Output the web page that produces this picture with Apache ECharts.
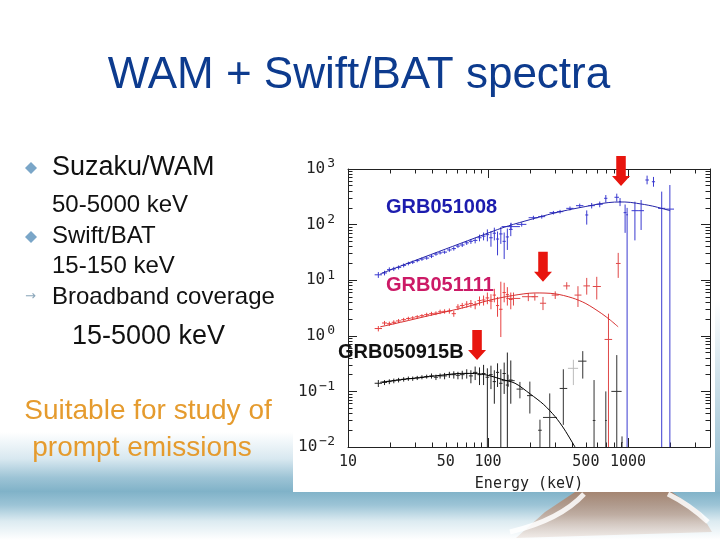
<!DOCTYPE html>
<html><head><meta charset="utf-8">
<script src="https://cdn.jsdelivr.net/npm/echarts@6.0.0/dist/echarts.min.js"></script>
<style>html,body{margin:0;padding:0;background:#fff}#c{width:720px;height:540px}</style>
</head><body><div id="c"></div>
<script>
// ---------- tick values ----------
const xLabelValues = [10, 50, 100, 500, 1000];
const xMajorTicks = [10, 100, 1000];
const xMinorTicks = [20,30,40,50,60,70,80,90,200,300,400,500,600,700,800,900,2000,3000];
const yMajorTicks = [0.01, 0.1, 1, 10, 100, 1000];
const yMinorTicks = [0.02,0.03,0.04,0.05,0.06,0.07,0.08,0.09,0.2,0.3,0.4,0.5,0.6,0.7,0.8,0.9,2,3,4,5,6,7,8,9,20,30,40,50,60,70,80,90,200,300,400,500,600,700,800,900];

// ---------- Swift/BAT channels (bin edges, keV) ----------
const batEdges = [15.5,17.5,19,20.5,22,24,26,28,30,32.5,35,38,41,44,47,51,55,59,63,68,73,78,84,90,96,102,108,114,120,127,134,141,150];

// GRB051008 (blue)
const blueBatF  = [12.5,13.5,15.5,16,17,18.5,20,21,22.5,24,25,27,29.5,31,32,35,37,41,43,47,50,52,58,62,66,58,70,55,68,50,60,82];
const blueBatLo = [11,12.2,14,14.6,15.6,17,18.5,19.5,21,22.3,23.3,25,27.5,29,29.8,32.5,34,38,39.5,43,45,46,50,52,50,40,52,28,45,24,35,62];
const blueBatHi = [14,14.8,17,17.4,18.4,20,21.5,22.5,24,25.7,26.7,29,31.5,33,34.2,37.5,40,44,46.5,51,55,58,66,72,82,76,88,75,90,72,85,105];
// WAM: [E, F, Elo, Ehi, Flo, Fhi]
const blueWam = [
  [146,92,125,169,80,108],[174,101,160,188,92,110],[211,133,195,228,122,144],[242,139,228,256,128,150],
  [293,164,275,310,152,176],[327,171,310,345,158,184],[385,196,362,408,180,212],[452,219,425,480,200,238],
  [507,149,495,520,100,180],[550,219,520,580,195,245],[628,232,595,660,205,260],[694,297,675,712,250,340],
  [831,310,800,862,260,360],[877,258,862,892,215,300],[953,164,930,975,71,230],[985,150,970,1000,0.005,200],
  [1120,178,1060,1180,52,258],[1240,178,1180,1300,80,277],[1368,634,1330,1410,530,760],[1520,590,1480,1560,480,720],
  [1740,196,1640,1850,0.005,392],[1990,190,1870,2130,0.005,515]
];
const blueModelE = [17,30,50,80,110,140,200,293,400,500,650,800,950,1150,1500,2000];
const blueModelF = [13,22.5,36.5,57,77,95,123,160,190,212,240,254,255,242,215,178];

// GRB051111 (red)
const redBatF  = [1.35,1.7,1.65,1.75,1.85,1.95,2.05,2.1,2.2,2.3,2.4,2.5,2.55,2.7,2.75,2.8,2.5,3.3,3.5,3.7,3.8,3.6,4.3,4.4,4.8,4.2,5.4,3.5,3.0,6.0,5.5,4.5];
const redBatLo = [1.2,1.55,1.5,1.6,1.7,1.8,1.9,1.95,2.05,2.15,2.2,2.3,2.35,2.45,2.5,2.5,2.2,2.9,3.1,3.2,3.2,3.0,3.5,3.5,3.7,3.0,4.0,2.2,0.95,4.0,3.5,3.0];
const redBatHi = [1.5,1.85,1.8,1.9,2.0,2.1,2.2,2.25,2.35,2.45,2.6,2.7,2.75,2.95,3.0,3.1,2.8,3.7,3.9,4.2,4.4,4.2,5.1,5.3,6.0,5.6,7.0,5.0,9.4,9.0,7.5,6.0];
const redWam = [
  [152,4.7,135,170,3.5,6.0],[194,5.05,175,215,4.2,5.9],[216,5.05,205,228,4.3,5.8],[247,3.85,235,260,2.9,5.0],
  [302,5.4,285,320,4.6,6.3],[365,7.9,345,385,6.8,9.2],[439,5.4,415,465,3.3,7.8],[507,7.9,480,535,5.5,11],
  [598,7.7,560,640,4.5,11.5],[725,0.86,680,770,0.005,2.5],[851,20,820,885,11,31]
];
const redModelE = [17,25,35,50,70,100,150,217,300,400,500,650,750,850];
const redModelF = [1.45,1.8,2.2,2.7,3.3,4.3,5.3,5.9,5.7,4.8,3.8,2.5,1.9,1.45];

// GRB050915B (black)
const blackBatF  = [0.14,0.145,0.15,0.155,0.16,0.165,0.17,0.17,0.175,0.18,0.185,0.19,0.18,0.19,0.19,0.2,0.2,0.195,0.2,0.21,0.19,0.22,0.2,0.21,0.18,0.2,0.15,0.22,0.14,0.21,0.13,0.16];
const blackBatLo = [0.12,0.13,0.135,0.14,0.145,0.15,0.155,0.155,0.16,0.165,0.17,0.17,0.16,0.17,0.165,0.175,0.17,0.165,0.165,0.17,0.14,0.16,0.13,0.13,0.005,0.11,0.06,0.12,0.005,0.09,0.005,0.06];
const blackBatHi = [0.16,0.16,0.165,0.17,0.175,0.18,0.185,0.185,0.19,0.195,0.2,0.21,0.2,0.21,0.215,0.225,0.23,0.225,0.235,0.25,0.24,0.28,0.27,0.3,0.26,0.29,0.24,0.32,0.25,0.33,0.5,0.36];
const blackWam = [
  [139,0.156,125,155,0.12,0.2],[169,0.11,160,178,0.075,0.148],[199,0.084,190,208,0.04,0.15],[235,0.02,228,242,0.005,0.031],
  [276,0.034,247,310,0.005,0.092],[345,0.113,325,368,0.025,0.25],[475,0.35,440,505,0.17,0.53],[572,0.03,560,585,0.005,0.16],
  [694,0.03,685,705,0.005,0.1],[831,0.1,760,900,0.005,0.45],[906,0.012,895,915,0.005,0.0155]
];
const blackWamLight = [[407,0.26,372,440,0.13,0.37]];
const blackModelE = [17,25,35,50,65,80,100,125,156,200,250,302,350,418];
const blackModelF = [0.146,0.165,0.18,0.2,0.211,0.21,0.195,0.165,0.14,0.09,0.058,0.035,0.021,0.01];

// peak-energy arrows (tip positions)
const arrowE = [891, 247, 83.5];
const arrowF = [494, 9.4, 0.367];

// ---------- helpers ----------
function batRows(F, lo, hi) {
  return F.map((f, i) => [Math.sqrt(batEdges[i] * batEdges[i + 1]), f, batEdges[i], batEdges[i + 1], lo[i], hi[i]]);
}
function pairs(E, F) { return E.map((e, i) => [e, F[i]]); }
function crossRender(color) {
  return function (params, api) {
    const cs = params.coordSys;
    const clampY = v => Math.max(cs.y, Math.min(cs.y + cs.height, v));
    const clampX = v => Math.max(cs.x, Math.min(cs.x + cs.width, v));
    const c = api.coord([api.value(0), api.value(1)]);
    const l = api.coord([api.value(2), api.value(1)]);
    const r = api.coord([api.value(3), api.value(1)]);
    const lo = api.coord([api.value(0), api.value(4)]);
    const hi = api.coord([api.value(0), api.value(5)]);
    const children = [];
    if (c[1] >= cs.y && c[1] <= cs.y + cs.height) {
      children.push({type: 'line', shape: {x1: clampX(l[0]), y1: c[1], x2: clampX(r[0]), y2: c[1]}, style: {stroke: color, lineWidth: 1}});
    }
    children.push({type: 'line', shape: {x1: c[0], y1: clampY(lo[1]), x2: c[0], y2: clampY(hi[1])}, style: {stroke: color, lineWidth: 1}});
    return {type: 'group', children: children};
  };
}
function crossSeries(data, color) {
  return {type: 'custom', renderItem: crossRender(color), data: data, clip: true, z: 3, silent: true};
}
function modelSeries(E, F, color) {
  return {type: 'line', data: pairs(E, F), smooth: 0.3, showSymbol: false, symbol: 'none',
          lineStyle: {color: color, width: 1}, z: 4, silent: true};
}

const AX = '#222';
const mono = 'DejaVu Sans Mono';
const XMAX = 3850;
function xAx(pos, ticks, len, labels) {
  return {type: 'log', logBase: 10, min: 10, max: XMAX, position: pos, gridIndex: 0,
    axisLine: {show: labels, lineStyle: {color: AX, width: 1}},
    axisTick: {show: true, inside: true, length: len, customValues: ticks, lineStyle: {color: AX, width: 1}},
    axisLabel: labels ? {show: pos === 'bottom', customValues: xLabelValues, formatter: v => String(Math.round(v)),
      fontFamily: mono, fontSize: 15, color: AX, margin: 8} : {show: false},
    splitLine: {show: false}, minorTick: {show: false},
    name: (labels && pos === 'bottom') ? 'Energy (keV)' : '', nameLocation: 'middle', nameGap: 30,
    nameTextStyle: {fontFamily: mono, fontSize: 15, color: AX}};
}
function yAx(pos, ticks, len, labels) {
  return {type: 'log', logBase: 10, min: 0.01, max: 1000, position: pos, gridIndex: 0,
    axisLine: {show: labels, lineStyle: {color: AX, width: 1}},
    axisTick: {show: true, inside: true, length: len, customValues: ticks, lineStyle: {color: AX, width: 1}},
    axisLabel: (labels && pos === 'left') ? {show: true, customValues: yMajorTicks, margin: 13,
      formatter: function (v) {
        const e = Math.round(Math.log10(v));
        const s = e < 0 ? '\u2212' + (-e) : String(e);
        return '{b|10}{s|' + s + '}';
      },
      rich: {b: {fontFamily: mono, fontSize: 16, color: AX},
             s: {fontFamily: mono, fontSize: 13, color: AX, padding: [0, 0, 10, 2]}}} : {show: false},
    splitLine: {show: false}, minorTick: {show: false}};
}

const chart = echarts.init(document.getElementById('c'), null, {renderer: 'canvas'});
const FONT = 'Liberation Sans';
chart.setOption({
  animation: false,
  backgroundColor: '#ffffff',
  grid: {left: 348, right: 10, top: 169, bottom: 93, containLabel: false},
  xAxis: [xAx('bottom', xMajorTicks, 9, true), xAx('bottom', xMinorTicks, 4.5, false),
          xAx('top', xMajorTicks, 9, true), xAx('top', xMinorTicks, 4.5, false)],
  yAxis: [yAx('left', yMajorTicks, 9, true), yAx('left', yMinorTicks, 4.5, false),
          yAx('right', yMajorTicks, 9, true), yAx('right', yMinorTicks, 4.5, false)],
  graphic: [
    {type: 'rect', z: -20, shape: {x: 0, y: 0, width: 720, height: 540},
      style: {fill: {type: 'linear', x: 0, y: 0, x2: 0, y2: 1, colorStops: [
        {offset: 0, color: '#ffffff'}, {offset: 0.80, color: '#ffffff'}, {offset: 0.85, color: '#d8e8f0'},
        {offset: 0.885, color: '#9cc3d5'}, {offset: 0.91, color: '#80b2c8'}, {offset: 0.935, color: '#9cc4d6'},
        {offset: 0.965, color: '#dcebf1'}, {offset: 1, color: '#ffffff'}]}}},
    {type: 'rect', z: -19, shape: {x: 715, y: 300, width: 5, height: 192},
      style: {fill: {type: 'linear', x: 0, y: 0, x2: 0, y2: 1, colorStops: [
        {offset: 0, color: '#ffffff'}, {offset: 1, color: '#8ab6cb'}]}}},
    {type: 'polygon', z: -19, shape: {points: [[575, 492], [672, 492], [700, 512], [712, 532], [516, 538], [545, 512]]},
      style: {fill: {type: 'linear', x: 0, y: 0, x2: 0, y2: 1, colorStops: [
        {offset: 0, color: 'rgba(168,128,104,0.9)'}, {offset: 0.5, color: 'rgba(190,158,140,0.75)'}, {offset: 1, color: 'rgba(225,208,198,0.4)'}]}}},
    {type: 'bezierCurve', z: -18, shape: {x1: 584, y1: 494, x2: 510, y2: 532, cpx1: 560, cpy1: 520},
      style: {stroke: 'rgba(255,255,255,0.85)', lineWidth: 5, fill: null}},
    {type: 'bezierCurve', z: -18, shape: {x1: 668, y1: 494, x2: 708, y2: 522, cpx1: 690, cpy1: 505},
      style: {stroke: 'rgba(255,255,255,0.85)', lineWidth: 5, fill: null}},
    {type: 'rect', z: -15, shape: {x: 293, y: 140, width: 422, height: 352}, style: {fill: '#ffffff'}},
    {type: 'text', z: 50, x: 359, y: 76, style: {text: 'WAM + Swift/BAT spectra', fontFamily: FONT, fontSize: 44,
      fill: '#0d3b8e', textAlign: 'center', textVerticalAlign: 'middle'}},
    {type: 'polygon', z: 50, shape: {points: [[31, 162], [37, 168], [31, 174], [25, 168]]}, style: {fill: '#7aa6c8'}},
    {type: 'text', z: 50, x: 52, y: 168, style: {text: 'Suzaku/WAM', fontFamily: FONT, fontSize: 27, fill: '#111', textVerticalAlign: 'middle'}},
    {type: 'text', z: 50, x: 52, y: 205, style: {text: '50-5000 keV', fontFamily: FONT, fontSize: 24, fill: '#111', textVerticalAlign: 'middle'}},
    {type: 'polygon', z: 50, shape: {points: [[31, 231], [37, 237], [31, 243], [25, 237]]}, style: {fill: '#7aa6c8'}},
    {type: 'text', z: 50, x: 52, y: 236, style: {text: 'Swift/BAT', fontFamily: FONT, fontSize: 24, fill: '#111', textVerticalAlign: 'middle'}},
    {type: 'text', z: 50, x: 52, y: 266, style: {text: '15-150 keV', fontFamily: FONT, fontSize: 24, fill: '#111', textVerticalAlign: 'middle'}},
    {type: 'text', z: 50, x: 25, y: 297, style: {text: '\u2192', fontFamily: 'DejaVu Sans', fontSize: 13, fill: '#8aa6ba', textVerticalAlign: 'middle'}},
    {type: 'text', z: 50, x: 52, y: 297, style: {text: 'Broadband coverage', fontFamily: FONT, fontSize: 24, fill: '#111', textVerticalAlign: 'middle'}},
    {type: 'text', z: 50, x: 72, y: 337, style: {text: '15-5000 keV', fontFamily: FONT, fontSize: 27, fill: '#111', textVerticalAlign: 'middle'}},
    {type: 'text', z: 50, x: 148, y: 411, style: {text: 'Suitable for study of', fontFamily: FONT, fontSize: 28, fill: '#e59b2e', textAlign: 'center', textVerticalAlign: 'middle'}},
    {type: 'text', z: 50, x: 142, y: 448, style: {text: 'prompt emissions', fontFamily: FONT, fontSize: 28, fill: '#e59b2e', textAlign: 'center', textVerticalAlign: 'middle'}},
    {type: 'text', z: 50, x: 386, y: 207.5, style: {text: 'GRB051008', fontFamily: FONT, fontWeight: 'bold', fontSize: 20, fill: '#1c1cae', textVerticalAlign: 'middle'}},
    {type: 'text', z: 50, x: 386, y: 285.5, style: {text: 'GRB051111', fontFamily: FONT, fontWeight: 'bold', fontSize: 20, fill: '#cc1a66', textVerticalAlign: 'middle'}},
    {type: 'text', z: 50, x: 338, y: 352.5, style: {text: 'GRB050915B', fontFamily: FONT, fontWeight: 'bold', fontSize: 20, fill: '#111', textVerticalAlign: 'middle'}}
  ],
  series: [
    crossSeries(batRows(blueBatF, blueBatLo, blueBatHi), '#3a3ad0'),
    crossSeries(blueWam, '#3a3ad0'),
    crossSeries(batRows(redBatF, redBatLo, redBatHi), '#e84040'),
    crossSeries(redWam, '#e04848'),
    crossSeries(batRows(blackBatF, blackBatLo, blackBatHi), '#222'),
    crossSeries(blackWam, '#333'),
    crossSeries(blackWamLight, '#bbb'),
    modelSeries(blueModelE, blueModelF, '#2424a8'),
    modelSeries(redModelE, redModelF, '#d83030'),
    modelSeries(blackModelE, blackModelF, '#000'),
    {type: 'scatter', data: pairs(arrowE, arrowF), clip: false, z: 10, silent: true,
      symbol: 'path://M4,0 L13,0 L13,20 L17,20 L8.5,30 L0,20 L4,20 Z', symbolSize: [18, 30],
      symbolKeepAspect: false, symbolOffset: [0, '-50%'], itemStyle: {color: '#e8150e', opacity: 1}}
  ]
});
</script></body></html>
